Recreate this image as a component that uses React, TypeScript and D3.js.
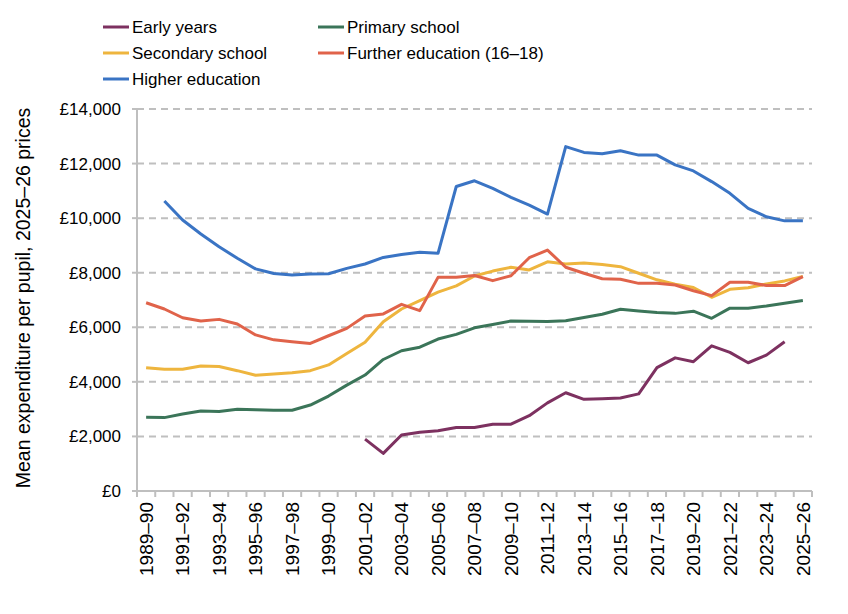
import React, { useEffect, useRef } from "react"
import * as d3 from "d3"

// ---------- Data ----------
const years: string[] = []
for (let y = 1989; y <= 2025; y++) years.push(`${y}–${String((y + 1) % 100).padStart(2, "0")}`)

const earlyYears: (number | null)[] = [
    null, null, null, null, null, null, null, null, null, null, null, null,
    1900, 1380, 2050, 2150, 2210, 2330, 2330, 2450, 2450, 2760, 3230, 3600,
    3360, 3380, 3410, 3560, 4520, 4880, 4740, 5320, 5080, 4700, 4980, 5470, null,
]
const primary: (number | null)[] = [
    2700, 2690, 2820, 2930, 2910, 3000, 2980, 2960, 2960, 3150, 3480, 3880,
    4250, 4820, 5140, 5270, 5570, 5740, 5980, 6100, 6230, 6220, 6210, 6240,
    6360, 6480, 6660, 6600, 6540, 6510, 6590, 6330, 6700, 6700, 6780, 6880, 6980,
]
const secondary: (number | null)[] = [
    4520, 4460, 4460, 4580, 4560, 4410, 4240, 4290, 4330, 4410, 4620, 5040,
    5450, 6200, 6670, 6980, 7290, 7520, 7880, 8060, 8200, 8100, 8400, 8320,
    8360, 8300, 8220, 7980, 7740, 7580, 7460, 7100, 7390, 7450, 7590, 7700, 7860,
]
const further: (number | null)[] = [
    6900, 6670, 6350, 6230, 6290, 6120, 5720, 5540, 5470, 5410, 5690, 5960,
    6410, 6490, 6840, 6610, 7830, 7830, 7900, 7710, 7890, 8550, 8830, 8200,
    7980, 7780, 7760, 7610, 7610, 7550, 7340, 7160, 7650, 7650, 7530, 7530, 7860,
]
const higher: (number | null)[] = [
    null, 10630, 9930, 9420, 8950, 8530, 8140, 7970, 7920, 7950, 7960, 8160,
    8320, 8560, 8670, 8750, 8710, 11160, 11370, 11090, 10760, 10480, 10150, 12620,
    12410, 12360, 12470, 12310, 12310, 11950, 11730, 11340, 10910, 10360, 10050, 9900, 9900,
]

const seriesNames = ["Early years", "Primary school", "Secondary school", "Further education (16–18)", "Higher education"]
const seriesValues = [earlyYears, primary, secondary, further, higher]
const seriesColors = ["#7d3160", "#3b7559", "#eeb53e", "#e0634a", "#3a74c4"]
const yTicks = [0, 2000, 4000, 6000, 8000, 10000, 12000, 14000]

// ---------- Component ----------
const App: React.FC = () => {
    const svgRef = useRef<SVGSVGElement>(null)

    useEffect(() => {
        if (!svgRef.current) return
        const width = 848
        const height = 614
        const svg = d3.select(svgRef.current)
        svg.selectAll("*").remove()

        const margin = { top: 109, right: 36, bottom: 123, left: 137 }
        const innerWidth = width - margin.left - margin.right
        const innerHeight = height - margin.top - margin.bottom
        const font = "'Liberation Sans', Arial, sans-serif"
        const axisGrey = "#bfbfbf"

        const g = svg.append("g").attr("transform", `translate(${margin.left},${margin.top})`)

        const x = d3.scaleBand<string>().domain(years).range([0, innerWidth])
        const y = d3.scaleLinear().domain([0, 14000]).range([innerHeight, 0])
        const cx = (i: number) => (x(years[i]) ?? 0) + x.bandwidth() / 2

        // Grid lines
        g.selectAll(".grid")
            .data(yTicks.filter(t => t > 0))
            .enter()
            .append("line")
            .attr("x1", 0)
            .attr("x2", innerWidth)
            .attr("y1", d => y(d))
            .attr("y2", d => y(d))
            .attr("stroke", axisGrey)
            .attr("stroke-width", 2)
            .attr("stroke-dasharray", "7,5")

        // Y axis
        g.append("line")
            .attr("x1", 0).attr("x2", 0)
            .attr("y1", 0).attr("y2", innerHeight)
            .attr("stroke", axisGrey).attr("stroke-width", 2)
        g.selectAll(".ytick")
            .data(yTicks)
            .enter()
            .append("line")
            .attr("x1", -5).attr("x2", 0)
            .attr("y1", d => y(d)).attr("y2", d => y(d))
            .attr("stroke", axisGrey).attr("stroke-width", 2)
        g.selectAll(".ylabel")
            .data(yTicks)
            .enter()
            .append("text")
            .attr("x", -16)
            .attr("y", d => y(d))
            .attr("dy", "0.35em")
            .attr("text-anchor", "end")
            .attr("font-family", font)
            .attr("font-size", "17px")
            .attr("fill", "#000")
            .text(d => "£" + d3.format(",")(d))

        // X axis
        g.append("line")
            .attr("x1", 0).attr("x2", innerWidth)
            .attr("y1", innerHeight).attr("y2", innerHeight)
            .attr("stroke", axisGrey).attr("stroke-width", 2)
        const bounds = d3.range(years.length + 1).map(i => i * x.step())
        g.selectAll(".xtick")
            .data(bounds)
            .enter()
            .append("line")
            .attr("x1", d => d).attr("x2", d => d)
            .attr("y1", innerHeight).attr("y2", innerHeight + 6)
            .attr("stroke", axisGrey).attr("stroke-width", 2)
        g.selectAll(".xlabel")
            .data(years.filter((_, i) => i % 2 === 0))
            .enter()
            .append("text")
            .attr("transform", d => `translate(${(x(d) ?? 0) + x.bandwidth() / 2},${innerHeight + 11}) rotate(-90)`)
            .attr("dy", "0.35em")
            .attr("text-anchor", "end")
            .attr("font-family", font)
            .attr("font-size", "19px")
            .attr("fill", "#000")
            .text(d => d)

        // Y axis title
        svg.append("text")
            .attr("transform", `translate(23,${margin.top + innerHeight / 2 - 2}) rotate(-90)`)
            .attr("dy", "0.35em")
            .attr("text-anchor", "middle")
            .attr("font-family", font)
            .attr("font-size", "19.5px")
            .attr("fill", "#000")
            .text("Mean expenditure per pupil, 2025–26 prices")

        // Lines
        const line = d3.line<number | null>()
            .defined(d => d !== null)
            .x((_, i) => cx(i))
            .y(d => y(d as number))

        seriesValues.forEach((vals, k) => {
            g.append("path")
                .datum(vals)
                .attr("d", line)
                .attr("fill", "none")
                .attr("stroke", seriesColors[k])
                .attr("stroke-width", 3)
                .attr("stroke-linejoin", "round")
        })

        // Legend
        const legendPos = [
            [103, 27], [318, 27],
            [103, 53], [318, 53],
            [103, 79],
        ]
        seriesNames.forEach((name, k) => {
            const [lx, ly] = legendPos[k]
            svg.append("line")
                .attr("x1", lx).attr("x2", lx + 26)
                .attr("y1", ly).attr("y2", ly)
                .attr("stroke", seriesColors[k])
                .attr("stroke-width", 3)
            svg.append("text")
                .attr("x", lx + 29)
                .attr("y", ly)
                .attr("dy", "0.35em")
                .attr("font-family", font)
                .attr("font-size", "17px")
                .attr("fill", "#000")
                .text(name)
        })
    }, [])

    return (
        <svg
            ref={svgRef}
            width={848}
            height={614}
            style={{ position: "absolute", left: 0, top: 0, background: "#fff" }}
        />
    )
}

export default App
